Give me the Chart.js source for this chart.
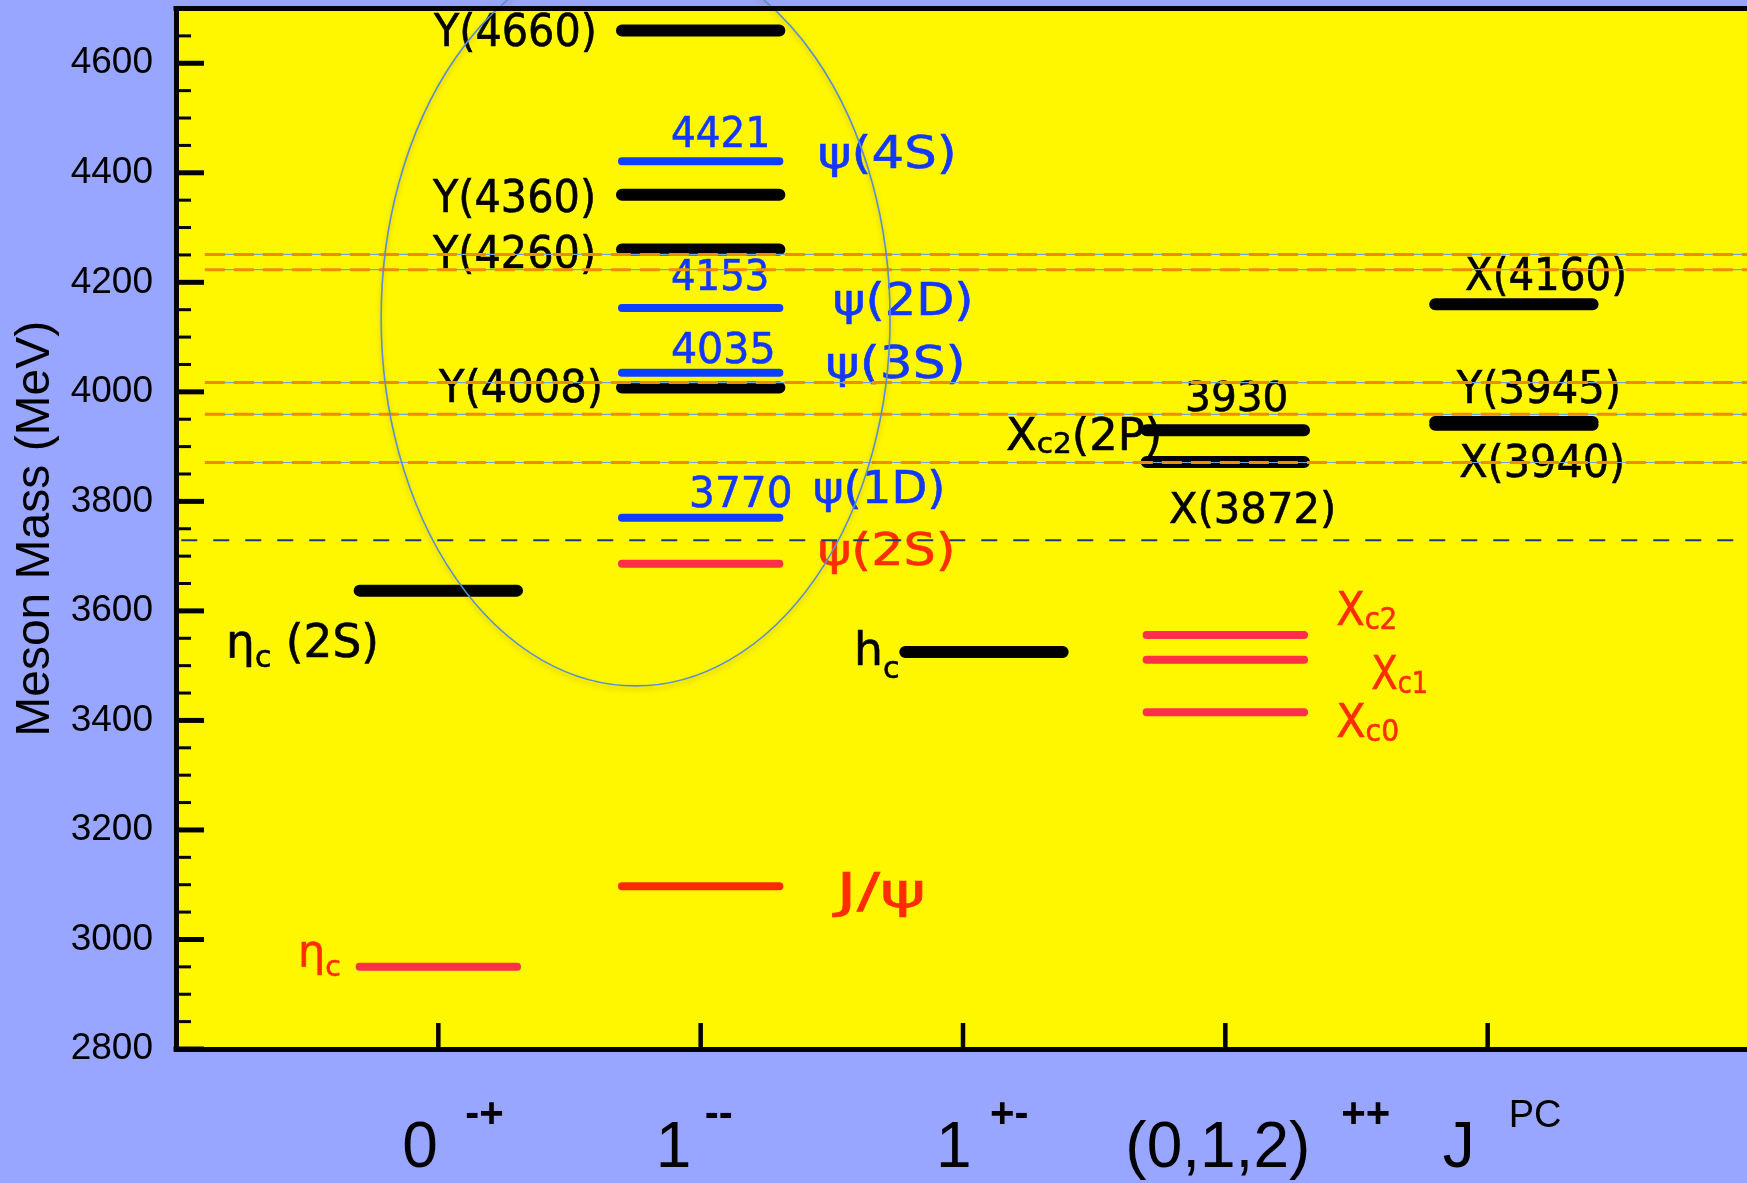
<!DOCTYPE html>
<html>
<head>
<meta charset="utf-8">
<title>Charmonium level scheme</title>
<script src="https://cdn.jsdelivr.net/npm/chart.js@4.4.1/dist/chart.umd.min.js"></script>
<style>
  html, body { margin: 0; padding: 0; background: #99a6ff; overflow: hidden; }
  canvas { display: block; }
</style>
</head>
<body>
<canvas id="levels" width="1750" height="1183"></canvas>
<script>
// ---- data ---------------------------------------------------------------
// J^PC groups along the horizontal axis
const jpcPositions = [1, 2, 3, 4, 5];
const jpcMain = ['0', '1', '1', '(0,1,2)', 'J'];
const jpcSup  = ['-+', '--', '+-', '++', 'PC'];

// labelled mass ticks (MeV)
const massTicks = [2800, 3000, 3200, 3400, 3600, 3800, 4000, 4200, 4400, 4600];

// new charmonium-like states (black), group index into jpcPositions
const xyzGroup = [0, 1, 1, 1, 1, 2, 3, 3, 4, 4, 4];
const xyzMass  = [3637, 4008, 4260, 4360, 4660, 3525, 3872, 3930, 3940, 3945, 4160];

// vector states above open charm (blue)
const psiGroup = [1, 1, 1, 1];
const psiMass  = [3770, 4035, 4153, 4421];

// narrow states below open charm (red)
const lowGroup = [0, 1, 3, 3, 3];
const lowMass  = [2950, 3686, 3415, 3511, 3556];

// J/psi
const jpsiGroup = [1];
const jpsiMass  = [3097];

// D Dbar threshold and further open-charm thresholds
const ddbarMass     = [3729];
const thresholdMass = [3871, 3959, 4017, 4223, 4251];

// ---- layout & style -----------------------------------------------------
const PAGE_BG = '#99a6ff';
const PLOT_BG = '#fff700';
const INK  = '#000000';
const BLUE = '#1238ff';
const RED  = '#ff2d00';

const levelCentre = [1, 2, 3.08, 4, 5.1];   // horizontal centre of each group's levels
const levelHalf = 0.30;                     // half length of a level line (x units)

const jpcMainShift = [-36, -45, -27, -100, -45];
const jpcSupShift  = [27, 4, 27, 116, 21];

const ellipseCentre = { x: 1.752, y: 4135 };
const ellipseRadii  = { x: 0.970, y: 672 };

// text annotations: braces mark a subscript
const stateLabels = [
  { text: 'Y(4660)', x0: 0.980, x1: 1.593, y: 4631, size: 44, color: INK },
  { text: 'Y(4360)', x0: 0.976, x1: 1.590, y: 4328, size: 44, color: INK },
  { text: 'Y(4260)', x0: 0.976, x1: 1.590, y: 4226, size: 44, color: INK },
  { text: 'Y(4008)', x0: 0.999, x1: 1.616, y: 3981, size: 44, color: INK },
  { text: 'η{c} (2S)', x0: 0.206, x1: 0.759, y: 3516, size: 46, color: INK, drop: 0.22 },
  { text: 'h{c}', x0: 2.600, x1: 2.752, y: 3501, size: 46, color: INK, drop: 0.27 },
  { text: 'X{c2}(2P)', x0: 3.168, x1: 3.747, y: 3894, size: 44, color: INK, drop: 0.08 },
  { text: '3930', x0: 3.858, x1: 4.231, y: 3965, size: 40, color: INK },
  { text: 'X(3872)', x0: 3.789, x1: 4.410, y: 3760, size: 42, color: INK },
  { text: 'X(4160)', x0: 4.917, x1: 5.520, y: 4186, size: 44, color: INK },
  { text: 'Y(3945)', x0: 4.879, x1: 5.497, y: 3980, size: 44, color: INK },
  { text: 'X(3940)', x0: 4.895, x1: 5.513, y: 3844, size: 44, color: INK },
  { text: '4421', x0: 1.894, x1: 2.252, y: 4447, size: 42, color: BLUE },
  { text: 'ψ(4S)', x0: 2.455, x1: 2.962, y: 4409, size: 44, color: BLUE },
  { text: '4153', x0: 1.894, x1: 2.252, y: 4186, size: 42, color: BLUE },
  { text: 'ψ(2D)', x0: 2.512, x1: 3.027, y: 4140, size: 44, color: BLUE },
  { text: '4035', x0: 1.894, x1: 2.276, y: 4053, size: 42, color: BLUE },
  { text: 'ψ(3S)', x0: 2.485, x1: 2.996, y: 4025, size: 44, color: BLUE },
  { text: '3770', x0: 1.967, x1: 2.340, y: 3790, size: 42, color: BLUE },
  { text: 'ψ(1D)', x0: 2.436, x1: 2.920, y: 3797, size: 44, color: BLUE },
  { text: 'ψ(2S)', x0: 2.455, x1: 2.958, y: 3684, size: 44, color: RED },
  { text: 'J/ψ', x0: 2.500, x1: 2.844, y: 3059, size: 48, color: RED },
  { text: 'η{c}', x0: 0.480, x1: 0.625, y: 2952, size: 44, color: RED, drop: 0.24 },
  { text: 'X{c2}', x0: 4.426, x1: 4.647, y: 3574, size: 46, color: RED, drop: 0.08 },
  { text: 'X{c1}', x0: 4.559, x1: 4.765, y: 3457, size: 46, color: RED, drop: 0.08 },
  { text: 'X{c0}', x0: 4.426, x1: 4.658, y: 3370, size: 46, color: RED, drop: 0.08 }
];

// ---- helpers ------------------------------------------------------------
function levelPoints(groups, masses) {
  const pts = [];
  groups.forEach((g, i) => {
    const c = levelCentre[g];
    pts.push({ x: c - levelHalf, y: masses[i] }, { x: c + levelHalf, y: masses[i] }, { x: c + levelHalf, y: null });
  });
  return pts;
}

function linePoints(masses, from) {
  const pts = [];
  masses.forEach(m => pts.push({ x: from, y: m }, { x: 6, y: m }, { x: 6, y: null }));
  return pts;
}

function segmentsOf(text) {
  const out = [];
  const re = /\{([^}]*)\}/g;
  let last = 0, m;
  while ((m = re.exec(text))) {
    if (m.index > last) out.push({ t: text.slice(last, m.index), sub: false });
    out.push({ t: m[1], sub: true });
    last = re.lastIndex;
  }
  if (last < text.length) out.push({ t: text.slice(last), sub: false });
  return out;
}

const LABEL_FONT = '"DejaVu Sans", "Noto Sans", sans-serif';
const AXIS_FONT = '"Liberation Sans", Arial, sans-serif';

function drawStateLabel(ctx, xs, ys, lab) {
  const segs = segmentsOf(lab.text);
  const subSize = lab.size * 0.66;
  const drop = lab.size * (lab.drop ?? 0.24);
  ctx.textAlign = 'left';
  ctx.textBaseline = 'alphabetic';
  let adv = 0, inkL = 0, inkR = 0;
  segs.forEach((s, i) => {
    s.font = (s.sub ? subSize : lab.size) + 'px ' + LABEL_FONT;
    ctx.font = s.font;
    const m = ctx.measureText(s.t);
    s.x = adv;
    if (i === 0) inkL = -m.actualBoundingBoxLeft;
    inkR = adv + m.actualBoundingBoxRight;
    adv += m.width;
  });
  const x0 = xs.getPixelForValue(lab.x0);
  const x1 = xs.getPixelForValue(lab.x1);
  const base = ys.getPixelForValue(lab.y);
  const k = (x1 - x0) / (inkR - inkL);
  ctx.save();
  ctx.translate(x0, base);
  ctx.scale(k, 1);
  ctx.translate(-inkL, 0);
  ctx.fillStyle = lab.color;
  ctx.strokeStyle = lab.color;
  ctx.lineWidth = 0.6;
  segs.forEach(s => {
    ctx.font = s.font;
    ctx.fillText(s.t, s.x, s.sub ? drop : 0);
    ctx.strokeText(s.t, s.x, s.sub ? drop : 0);
  });
  ctx.restore();
}

// ---- plugin: backgrounds, inward ticks, annotations ---------------------
const levelScheme = {
  id: 'levelScheme',
  beforeDraw(chart) {
    const { ctx, chartArea: a } = chart;
    ctx.save();
    ctx.fillStyle = PAGE_BG;
    ctx.fillRect(0, 0, chart.width, chart.height);
    ctx.fillStyle = PLOT_BG;
    ctx.fillRect(a.left, a.top, a.right - a.left, a.bottom - a.top);
    ctx.restore();
  },
  beforeDatasetsDraw(chart) {
    const { ctx, chartArea: a, scales: { x: xs, y: ys } } = chart;
    ctx.save();
    ctx.strokeStyle = INK;
    ctx.lineCap = 'butt';
    ys.ticks.forEach(t => {
      const y = ys.getPixelForValue(t.value);
      const major = massTicks.includes(t.value);
      ctx.lineWidth = major ? 5 : 3;
      ctx.beginPath();
      ctx.moveTo(a.left, y);
      ctx.lineTo(a.left + (major ? 28 : 15), y);
      ctx.stroke();
    });
    ctx.lineWidth = 4.5;
    jpcPositions.forEach(v => {
      const x = xs.getPixelForValue(v);
      ctx.beginPath();
      ctx.moveTo(x, a.bottom);
      ctx.lineTo(x, a.bottom - 26);
      ctx.stroke();
    });
    stateLabels.forEach(l => drawStateLabel(ctx, xs, ys, l));
    ctx.restore();
  },
  afterDatasetsDraw(chart) {
    const { ctx, chartArea: a, scales: { x: xs, y: ys } } = chart;
    ctx.save();
    // grouping ellipse round the vector states
    const cx = xs.getPixelForValue(ellipseCentre.x);
    const cy = ys.getPixelForValue(ellipseCentre.y);
    const rx = xs.getPixelForValue(ellipseCentre.x + ellipseRadii.x) - cx;
    const ry = cy - ys.getPixelForValue(ellipseCentre.y + ellipseRadii.y);
    ctx.shadowColor = 'rgba(110, 90, 0, 0.35)';
    ctx.shadowBlur = 5;
    ctx.shadowOffsetY = 3;
    ctx.strokeStyle = '#5a8ed6';
    ctx.lineWidth = 1.6;
    ctx.beginPath();
    ctx.ellipse(cx, cy, rx, ry, 0, 0, Math.PI * 2);
    ctx.stroke();
    ctx.shadowColor = 'transparent';
    // top edge of the frame
    ctx.strokeStyle = INK;
    ctx.lineWidth = 5;
    ctx.beginPath();
    ctx.moveTo(a.left - 2.5, a.top);
    ctx.lineTo(chart.width, a.top);
    ctx.stroke();
    ctx.fillStyle = INK;
    ctx.fillRect(a.left - 2.5, a.bottom - 2.5, 5, 5);
    ctx.restore();
  },
  afterDraw(chart) {
    const { ctx, chartArea: a, scales: { x: xs } } = chart;
    ctx.save();
    ctx.fillStyle = INK;
    ctx.textAlign = 'left';
    ctx.textBaseline = 'alphabetic';
    jpcPositions.forEach((v, i) => {
      const x = xs.getPixelForValue(v);
      ctx.font = '64px ' + AXIS_FONT;
      ctx.fillText(jpcMain[i], x + jpcMainShift[i], a.bottom + 118);
      ctx.font = (i < 4 ? 'bold 42px ' : '38px ') + AXIS_FONT;
      ctx.fillText(jpcSup[i], x + jpcSupShift[i], a.bottom + 78);
    });
    ctx.restore();
  }
};

// ---- chart --------------------------------------------------------------
const levelStyle = (color, width, order) => ({
  borderColor: color,
  borderWidth: width,
  borderCapStyle: 'round',
  pointRadius: 0,
  fill: false,
  tension: 0,
  spanGaps: false,
  order
});

new Chart(document.getElementById('levels'), {
  type: 'line',
  data: {
    datasets: [
      { label: 'thresholds', data: linePoints(thresholdMass, 0.11),
        ...levelStyle('#f08c00', 3, 1), borderCapStyle: 'butt', borderDash: [20, 9] },
      { label: 'thresholds (guide)', data: linePoints(thresholdMass, 0.11),
        ...levelStyle('#6aa7e0', 1.2, 2), borderCapStyle: 'butt' },
      { label: 'D Dbar threshold', data: linePoints(ddbarMass, 0.02),
        ...levelStyle('#1f3a73', 2.2, 1), borderCapStyle: 'butt', borderDash: [16, 16] },
      { label: 'J/psi', data: levelPoints(jpsiGroup, jpsiMass), ...levelStyle('#ff2a00', 8, 3) },
      { label: 'narrow states', data: levelPoints(lowGroup, lowMass), ...levelStyle('#ff3048', 8, 3) },
      { label: 'vector states', data: levelPoints(psiGroup, psiMass), ...levelStyle('#1040ff', 8, 3) },
      { label: 'XYZ states', data: levelPoints(xyzGroup, xyzMass), ...levelStyle(INK, 12, 4) }
    ]
  },
  options: {
    responsive: false,
    animation: false,
    events: [],
    devicePixelRatio: 1,
    layout: { padding: { top: 8.5, left: 0, right: 0, bottom: 0 } },
    plugins: { legend: { display: false }, tooltip: { enabled: false } },
    scales: {
      x: {
        type: 'linear',
        min: 0,
        max: 6,
        ticks: { display: false },
        grid: { display: false, drawTicks: false },
        border: { display: true, color: INK, width: 5 },
        afterFit(s) { s.height = 134; s.paddingLeft = 0; s.paddingRight = 0; }
      },
      y: {
        type: 'linear',
        min: 2800,
        max: 4700,
        ticks: {
          stepSize: 50,
          autoSkip: false,
          color: INK,
          padding: 23,
          font: { family: AXIS_FONT, size: 37 },
          callback: v => (massTicks.includes(v) ? String(v) : '')
        },
        grid: { display: false, drawTicks: false },
        border: { display: true, color: INK, width: 5 },
        title: {
          display: true,
          text: 'Meson Mass (MeV)',
          color: INK,
          font: { family: AXIS_FONT, size: 48 },
          padding: { top: 7, bottom: 0 }
        },
        afterFit(s) { s.width = 176; s.paddingTop = 0; s.paddingBottom = 0; }
      }
    }
  },
  plugins: [levelScheme]
});
</script>
</body>
</html>
